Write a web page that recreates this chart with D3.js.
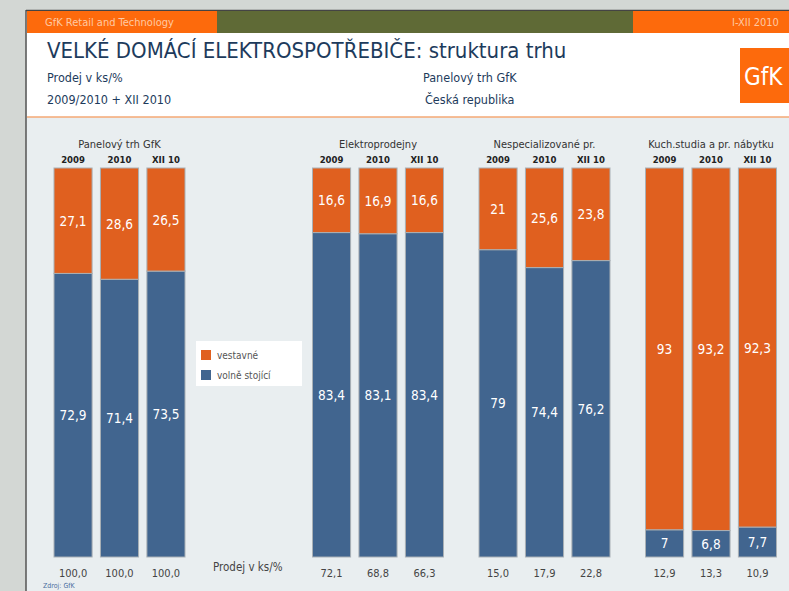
<!DOCTYPE html>
<html>
<head>
<meta charset="utf-8">
<script src="https://cdn.jsdelivr.net/npm/d3@7/dist/d3.min.js"></script>
<style>
	body{margin:0;background:#d3d7d4;}
	svg{display:block;}
	text{font-family:"DejaVu Sans Condensed","DejaVu Sans",sans-serif;}
</style>
</head>
<body>
<svg id="chart" width="789" height="591"></svg>
<script>
// data
var groups = ["Panelový trh GfK","Elektroprodejny","Nespecializované pr.","Kuch.studia a pr. nábytku"];
var years = ["2009","2010","XII 10"];
var vestavne = [[27.1,28.6,26.5],[16.6,16.9,16.6],[21,25.6,23.8],[93,93.2,92.3]];
var volneStojici = [[72.9,71.4,73.5],[83.4,83.1,83.4],[79,74.4,76.2],[7,6.8,7.7]];
var prodejKs = [[100.0,100.0,100.0],[72.1,68.8,66.3],[15.0,17.9,22.8],[12.9,13.3,10.9]];
var seriesNames = ["vestavné","volně stojící"];
var colors = {"vestavné":"#e0601f","volně stojící":"#41658f"};

var svg = d3.select("#chart");

// pozadi a hlavicka
svg.append("rect").attr("x",26).attr("y",10).attr("width",763).attr("height",581).attr("fill","#e9eef0");
svg.append("rect").attr("x",27).attr("y",33).attr("width",762).attr("height",84).attr("fill","#ffffff");
svg.append("line").attr("x1",27).attr("x2",789).attr("y1",117).attr("y2",117).attr("stroke","#f5a874").attr("stroke-width",1.5);
svg.append("line").attr("x1",26).attr("x2",26).attr("y1",10).attr("y2",591).attr("stroke","#555").attr("stroke-width",1.5);
svg.append("line").attr("x1",26).attr("x2",789).attr("y1",10.5).attr("y2",10.5).attr("stroke","#444").attr("stroke-width",1.5);

svg.append("rect").attr("x",27).attr("y",11).attr("width",190).attr("height",22).attr("fill","#fd6a0c");
svg.append("rect").attr("x",217).attr("y",11).attr("width",416).attr("height",22).attr("fill","#5f6a36");
svg.append("rect").attr("x",633).attr("y",11).attr("width",156).attr("height",22).attr("fill","#fd6a0c");
svg.append("text").attr("x",45).attr("y",26).attr("font-size",11).attr("font-family","'DejaVu Sans',sans-serif")
	.attr("fill","#ffc9a3").text("GfK Retail and Technology");
svg.append("text").attr("x",732).attr("y",26).attr("font-size",11).attr("font-family","'DejaVu Sans',sans-serif")
	.attr("fill","#ffc9a3").text("I-XII 2010");

// nadpis
svg.append("text").attr("x",47).attr("y",58).attr("font-size",22).attr("fill","#1d3b5c")
	.text("VELKÉ DOMÁCÍ ELEKTROSPOTŘEBIČE: struktura trhu");
var sub = [["Prodej v ks/%",47,82],["2009/2010 + XII 2010",47,104],["Panelový trh GfK",423,82],["Česká republika",425,104]];
svg.selectAll(".sub").data(sub).enter().append("text")
	.attr("class","sub")
	.attr("x",function(d){return d[1]})
	.attr("y",function(d){return d[2]})
	.attr("font-size",12.5)
	.attr("font-family","'DejaVu Sans',sans-serif")
	.attr("fill","#1d3b5c")
	.text(function(d){return d[0]});

// logo
svg.append("rect").attr("x",740).attr("y",48).attr("width",60).attr("height",55).attr("fill","#fd6a0c");
svg.append("text").attr("x",744).attr("y",85).attr("font-size",24).attr("fill","#ffffff")
	.attr("font-family","'Open Sans',sans-serif").text("GfK");

// meritka
var y = d3.scaleLinear().domain([0,100]).range([557,168]);
var xGroup = function(i){return 54 + i*166.5 + (i>0 ? 92 : 0)};  //mezera pro legendu
var xYear = d3.scaleBand().domain(years).range([0,131]).paddingInner(0.18);

var fmt = function(v){return v%1===0 ? String(v) : v.toFixed(1).replace(".",",")};
var fmt1 = function(v){return v.toFixed(1).replace(".",",")};

var g = svg.selectAll(".grp")
	.data(groups)
	.enter()
	.append("g")
	.attr("class","grp")
	.attr("transform",function(d,i){return "translate("+xGroup(i)+",0)"});

g.append("text")
	.attr("x",xYear.range()[1]/2)
	.attr("y",148)
	.attr("text-anchor","middle")
	.attr("font-size",11)
	.attr("font-family","'DejaVu Sans',sans-serif")
	.attr("fill","#333")
	.text(function(d){return d});

g.each(function(name,gi){
	var sel = d3.select(this);
	var bars = years.map(function(yr,i){
		return {yr:yr, top:vestavne[gi][i], bot:volneStojici[gi][i], total:prodejKs[gi][i]};
	});

	sel.selectAll(".yr").data(bars).enter().append("text")
		.attr("class","yr")
		.attr("x",function(d){return xYear(d.yr)+xYear.bandwidth()/2})
		.attr("y",163)
		.attr("text-anchor","middle")
		.attr("font-size",9.5)
		.attr("font-weight","bold")
		.attr("font-family","'Liberation Serif',serif")
		.attr("fill","#222")
		.text(function(d){return d.yr});

	// volne stojici (dole)
	sel.selectAll(".bBot").data(bars).enter().append("rect")
		.attr("class","bBot")
		.attr("x",function(d){return xYear(d.yr)})
		.attr("width",xYear.bandwidth())
		.attr("y",function(d){return y(d.bot)})
		.attr("height",function(d){return y(0)-y(d.bot)})
		.attr("fill",colors["volně stojící"])
		.attr("stroke","#a9b0b5");

	// vestavne (nahore)
	sel.selectAll(".bTop").data(bars).enter().append("rect")
		.attr("class","bTop")
		.attr("x",function(d){return xYear(d.yr)})
		.attr("width",xYear.bandwidth())
		.attr("y",function(d){return y(d.bot+d.top)})
		.attr("height",function(d){return y(d.bot)-y(d.bot+d.top)})
		.attr("fill",colors["vestavné"])
		.attr("stroke","#a9b0b5");

	sel.selectAll(".lTop").data(bars).enter().append("text")
		.attr("class","lTop")
		.attr("x",function(d){return xYear(d.yr)+xYear.bandwidth()/2})
		.attr("y",function(d){return (y(d.bot)+y(d.bot+d.top))/2+5})
		.attr("text-anchor","middle")
		.attr("font-size",13.5)
		.attr("fill","#fff")
		.text(function(d){return fmt(d.top)});

	sel.selectAll(".lBot").data(bars).enter().append("text")
		.attr("class","lBot")
		.attr("x",function(d){return xYear(d.yr)+xYear.bandwidth()/2})
		.attr("y",function(d){return (y(0)+y(d.bot))/2+5})
		.attr("text-anchor","middle")
		.attr("font-size",13.5)
		.attr("fill","#fff")
		.text(function(d){return fmt(d.bot)});

	sel.selectAll(".tot").data(bars).enter().append("text")
		.attr("class","tot")
		.attr("x",function(d){return xYear(d.yr)+xYear.bandwidth()/2})
		.attr("y",577)
		.attr("text-anchor","middle")
		.attr("font-size",11)
		.attr("fill","#444")
		.text(function(d){return fmt1(d.total)});
});

svg.append("text").attr("x",213).attr("y",571).attr("font-size",11.5).attr("fill","#444").text("Prodej v ks/%");

// legenda
var leg = svg.append("g").attr("transform","translate(196,341)");
leg.append("rect").attr("width",106).attr("height",45).attr("fill","#fff");
leg.selectAll(".li").data(seriesNames).enter().append("g")
	.attr("class","li")
	.attr("transform",function(d,i){return "translate(5,"+(9+i*20)+")"})
	.each(function(d){
		d3.select(this).append("rect").attr("width",10).attr("height",10).attr("fill",colors[d]);
		d3.select(this).append("text").attr("x",16).attr("y",9).attr("font-size",10).attr("fill","#555").text(d);
	});

svg.append("text").attr("x",43).attr("y",588).attr("font-size",7).attr("fill","#4a6fa0").text("Zdroj: GfK");
</script>
</body>
</html>
